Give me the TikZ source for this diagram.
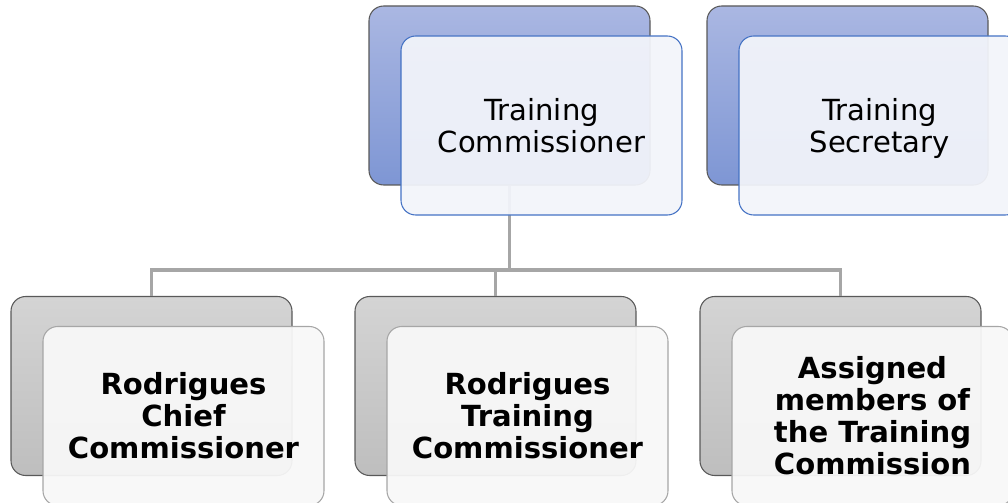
\documentclass[tikz,border=0pt]{standalone}
\usepackage{fontspec}
\setmainfont{DejaVu Sans}
\usetikzlibrary{calc}

\definecolor{backborder}{RGB}{89,89,89}
\definecolor{bluetop}{RGB}{170,183,226}
\definecolor{bluebottom}{RGB}{126,150,212}
\definecolor{blueline}{RGB}{68,114,196}
\definecolor{bluefront}{RGB}{242,244,250}
\definecolor{graytop}{RGB}{212,212,212}
\definecolor{graybottom}{RGB}{190,190,190}
\definecolor{grayline}{RGB}{166,166,166}
\definecolor{grayfront}{RGB}{248,248,248}

\begin{document}
\begin{tikzpicture}[x=0.75pt,y=0.75pt,yscale=-1,xscale=1,
	card/.style={rounded corners=11pt,minimum width=210.75pt,minimum height=134.25pt,inner sep=0pt},
	blueback/.style={card,draw=backborder,line width=0.8pt,top color=bluetop,bottom color=bluebottom},
	bluecard/.style={card,draw=blueline,line width=0.8pt,fill=bluefront,fill opacity=0.94,text opacity=1,
		align=center,font=\fontsize{21.8}{23.5}\selectfont},
	grayback/.style={card,draw=backborder,line width=0.8pt,top color=graytop,bottom color=graybottom},
	graycard/.style={card,draw=grayline,line width=0.8pt,fill=grayfront,fill opacity=0.94,text opacity=1,
		align=center,font=\fontsize{21.8}{24}\selectfont\bfseries},
	link/.style={draw=grayline,line width=2.3pt}]
		\clip (0,0) rectangle (1008,503);
		
		% top row
		\node [blueback] (tcBack) at (509.5,95.5) {};
		\node [blueback] (tsBack) at (847.5,95.5) {};
		
		% bottom row
		\node [grayback] (rccBack) at (151.5,386) {};
		\node [grayback] (rtcBack) at (495.5,386) {};
		\node [grayback] (amBack) at (840.5,386) {};
		
		% connectors
		\coordinate (bus) at (509.5,270);
		\draw [link] (tcBack.south) -- (tcBack.south |- bus);
		\draw [link] (rccBack.north) |- (bus) -| (amBack.north);
		\draw [link] (rtcBack.north) -- (rtcBack.north |- bus);
		
		% front cards
		\node [bluecard] (tcFront) at ($(tcBack)+(32,30)$) {Training\\Commissioner};
		\node [bluecard] (tsFront) at ($(tsBack)+(32,30)$) {Training\\\smash{Secretary}};
		\node [graycard] (rccFront) at ($(rccBack)+(32,30)$) {Rodrigues\\Chief\\Commissioner};
		\node [graycard] (rtcFront) at ($(rtcBack)+(32,30)$) {Rodrigues\\Training\\Commissioner};
		\node [graycard] (amFront) at ($(amBack)+(32,30)$) {Assigned\\members of\\the Training\\Commission};
		
\end{tikzpicture}
\end{document}
